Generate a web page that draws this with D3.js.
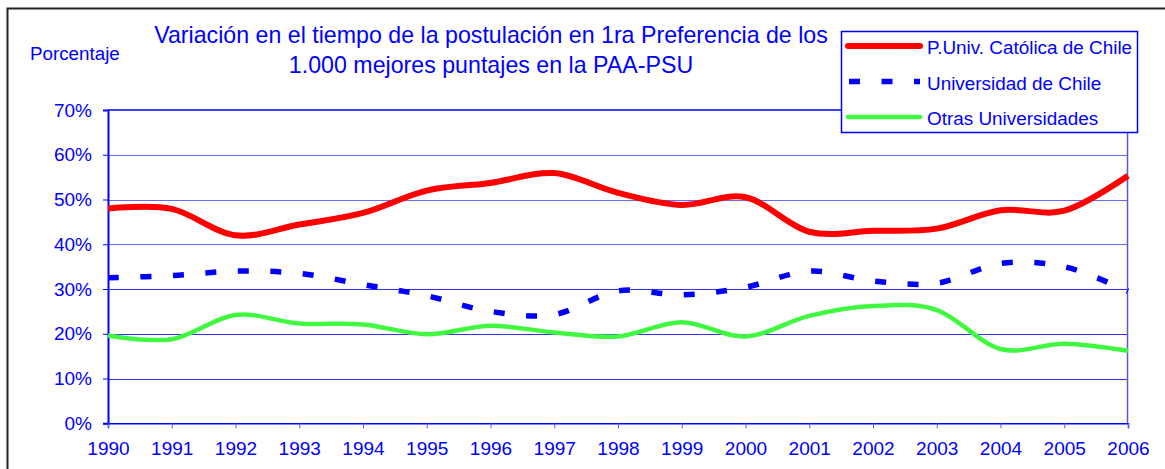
<!DOCTYPE html>
<html>
<head>
<meta charset="utf-8">
<script src="https://cdn.jsdelivr.net/npm/d3@7"></script>
<style>
  body { margin: 0; background: #fff; }
  svg { display: block; font-family: Arial, 'Liberation Sans', sans-serif; }
</style>
</head>
<body>
<svg id="chart" width="1165" height="469"></svg>
<script>
const years = [1990, 1991, 1992, 1993, 1994, 1995, 1996, 1997, 1998, 1999, 2000, 2001, 2002, 2003, 2004, 2005, 2006]
const catolica = [48.0, 47.9, 42.0, 44.4, 47.0, 52.0, 53.7, 55.9, 51.5, 48.8, 50.5, 42.8, 43.0, 43.5, 47.6, 47.5, 55.3]
const uChile = [32.5, 33.0, 34.0, 33.5, 31.0, 28.5, 25.0, 24.3, 29.6, 28.7, 30.4, 34.0, 31.8, 31.3, 35.7, 35.0, 29.5]
const otras = [19.6, 18.8, 24.2, 22.3, 22.1, 19.9, 21.8, 20.3, 19.4, 22.6, 19.4, 24.0, 26.2, 25.3, 16.6, 17.8, 16.2]
const yTicks = [0, 10, 20, 30, 40, 50, 60, 70]
const seriesNames = ['P.Univ. Católica de Chile', 'Universidad de Chile', 'Otras Universidades']
const titleLines = ['Variación en el tiempo de la postulación en 1ra Preferencia de los', '1.000 mejores puntajes en la PAA-PSU']

const blue = '#0000ff'
const svg = d3.select('#chart')

const x = d3.scaleLinear().domain([1990, 2006]).range([108, 1128])
const y = d3.scaleLinear().domain([0, 70]).range([423.3, 110])

// outer frame
svg.append('rect')
  .attr('x', 7.5).attr('y', 8.5)
  .attr('width', 1300).attr('height', 600)
  .attr('fill', 'none')
  .attr('stroke', '#222')
  .attr('stroke-width', 2)

// titles
svg.append('g')
  .selectAll('text')
  .data(titleLines)
  .join('text')
  .attr('x', 491)
  .attr('y', (d, i) => 43 + i * 30)
  .attr('text-anchor', 'middle')
  .attr('font-size', '23.2px')
  .attr('fill', blue)
  .text(d => d)

svg.append('text')
  .attr('x', 30).attr('y', 60)
  .attr('font-size', '18.8px')
  .attr('fill', blue)
  .text('Porcentaje')

// gridlines
svg.append('g')
  .selectAll('line')
  .data(yTicks.filter(d => d > 0 && d < 70))
  .join('line')
  .attr('x1', 108).attr('x2', 1128)
  .attr('y1', d => Math.round(y(d)) + 0.5)
  .attr('y2', d => Math.round(y(d)) + 0.5)
  .attr('stroke', d => d >= 40 ? '#6a6aff' : '#3030ff')
  .attr('stroke-width', 1)

// plot border (top and right)
svg.append('line')
  .attr('x1', 108).attr('x2', 1128)
  .attr('y1', y(70)).attr('y2', y(70))
  .attr('stroke', blue).attr('stroke-width', 1.5)
svg.append('line')
  .attr('x1', 1127.5).attr('x2', 1127.5)
  .attr('y1', y(70)).attr('y2', y(0))
  .attr('stroke', '#5a5ad8').attr('stroke-width', 1.5)

// y axis
const yAxis = svg.append('g')
  .attr('transform', 'translate(108,0)')
  .call(d3.axisLeft(y).tickValues(yTicks).tickFormat(d => d + '%').tickSize(5).tickPadding(11))
yAxis.select('.domain').attr('stroke', blue).attr('stroke-width', 2)
yAxis.selectAll('.tick line').attr('stroke', blue)
yAxis.selectAll('.tick text')
  .attr('fill', blue)
  .attr('font-size', '19px')
  .attr('font-family', 'Arial, Liberation Sans, sans-serif')

// x axis
const xAxis = svg.append('g')
  .attr('transform', `translate(0,${y(0)})`)
  .call(d3.axisBottom(x).tickValues(years).tickFormat(d3.format('d')).tickSize(5).tickPadding(13))
xAxis.select('.domain').attr('stroke', blue).attr('stroke-width', 1.5)
xAxis.selectAll('.tick line').attr('stroke', '#5a5aff')
xAxis.selectAll('.tick text')
  .attr('fill', blue)
  .attr('font-size', '19px')
  .attr('font-family', 'Arial, Liberation Sans, sans-serif')

// series
const line = d3.line()
  .x((d, i) => x(years[i]))
  .y(d => y(d))
  .curve(d3.curveCardinal.tension(0))

const series = [
  { name: seriesNames[0], values: catolica, color: '#ff0000', width: 6, dash: null },
  { name: seriesNames[1], values: uChile, color: '#0000ff', width: 5.5, dash: '11,21.5' },
  { name: seriesNames[2], values: otras, color: '#40f840', width: 4.5, dash: null }
]

svg.append('g')
  .selectAll('path')
  .data(series)
  .join('path')
  .attr('d', d => line(d.values))
  .attr('fill', 'none')
  .attr('stroke', d => d.color)
  .attr('stroke-width', d => d.width)
  .attr('stroke-dasharray', d => d.dash)
  .attr('stroke-linejoin', 'round')

// legend
const legend = svg.append('g')
legend.append('rect')
  .attr('x', 841.5).attr('y', 31.5)
  .attr('width', 296).attr('height', 101)
  .attr('fill', '#fff')
  .attr('stroke', blue)
  .attr('stroke-width', 1.5)

const item = legend.selectAll('g')
  .data(series)
  .join('g')
  .attr('transform', (d, i) => `translate(0,${46 + i * 35.5})`)

item.append('line')
  .attr('x1', d => d.dash ? 849 : 848)
  .attr('x2', 920)
  .attr('stroke', d => d.color)
  .attr('stroke-width', d => d.width)
  .attr('stroke-dasharray', d => d.dash)
  .attr('stroke-linecap', d => d.dash ? 'butt' : 'round')

item.append('text')
  .attr('x', 927)
  .attr('y', 8)
  .attr('font-size', '18.9px')
  .attr('fill', blue)
  .text(d => d.name)
</script>
</body>
</html>
